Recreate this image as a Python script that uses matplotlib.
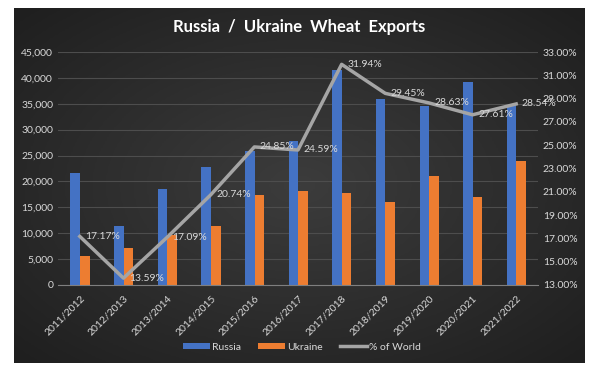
import numpy as np
import matplotlib
matplotlib.use("Agg")
import matplotlib.pyplot as plt
from matplotlib.ticker import FuncFormatter

saisons = ["2011/2012", "2012/2013", "2013/2014", "2014/2015", "2015/2016", "2016/2017",
           "2017/2018", "2018/2019", "2019/2020", "2020/2021", "2021/2022"]
russie = [21600, 11400, 18500, 22800, 25800, 27900, 41500, 35900, 34600, 39200, 34700]
ukraine = [5600, 7150, 9650, 11400, 17400, 18150, 17800, 16000, 21050, 16900, 24000]
part_monde = [17.17, 13.59, 17.09, 20.74, 24.85, 24.59, 31.94, 29.45, 28.63, 27.61, 28.54]

plt.rcParams["font.family"] = ["Lato", "DejaVu Sans"]
texte = "#D9D9D9"

fig = plt.figure(figsize=(5.98, 3.78), dpi=100)
fig.patch.set_facecolor("white")

# fond sombre avec un léger dégradé (style Excel)
fond = fig.add_axes([14 / 598, 15 / 378, 571 / 598, 355 / 378])
yy, xx = np.mgrid[-1:1:200j, -1:1:300j]
r = np.sqrt(xx ** 2 + yy ** 2)
fond.imshow(np.clip(r / 1.4, 0, 1), cmap=matplotlib.colors.LinearSegmentedColormap.from_list(
    "fond", ["#3c3c3c", "#1f1f1f"]), aspect="auto", extent=[0, 1, 0, 1])
fond.set_axis_off()

ax = fig.add_axes([58 / 598, 93 / 378, 480 / 598, 233 / 378])
ax.set_facecolor("none")
x = np.arange(len(saisons))
largeur = 0.22
ax.bar(x - 0.105, russie, largeur, color="#4472C4", label="Russia", zorder=2)
ax.bar(x + 0.115, ukraine, largeur, color="#ED7D31", label="Ukraine", zorder=2)
ax.set_xlim(-0.5, len(saisons) - 0.5)
ax.set_ylim(0, 45000)
ax.set_yticks(range(0, 45001, 5000))
ax.yaxis.set_major_formatter(FuncFormatter(lambda v, p: f"{int(v):,}"))
ax.grid(axis="y", color="#4d4d4d", linewidth=0.8, zorder=0)
ax.set_axisbelow(True)
for c in ["top", "left", "right"]:
    ax.spines[c].set_visible(False)
ax.spines["bottom"].set_color("#7f7f7f")
ax.set_xticks(x)
ax.set_xticklabels(saisons, rotation=45, ha="right", rotation_mode="anchor")
ax.tick_params(axis="both", length=0, colors=texte, labelsize=7.5)
ax.tick_params(axis="x", pad=6)

ax2 = ax.twinx()
ligne, = ax2.plot(x, part_monde, color="#A5A5A5", linewidth=2.5, label="% of World", zorder=3)
ax2.set_ylim(13, 33)
ax2.set_yticks(np.arange(13, 33.01, 2))
ax2.yaxis.set_major_formatter(FuncFormatter(lambda v, p: f"{v:.2f}%"))
ax2.tick_params(axis="y", length=0, colors=texte, labelsize=7.5)
for c in ax2.spines.values():
    c.set_visible(False)
for i, v in enumerate(part_monde):
    ax2.annotate(f"{v:.2f}%", (x[i], v), xytext=(4, 0), textcoords="offset points",
                 ha="left", va="center", color=texte, fontsize=7.5)

fig.text(0.5, 1 - 27 / 378, "Russia  /  Ukraine  Wheat  Exports", ha="center", va="center",
         color="white", fontsize=12, fontweight="bold")

h1, l1 = ax.get_legend_handles_labels()
fig.legend(h1 + [ligne], l1 + ["% of World"], loc="center", bbox_to_anchor=(0.505, 1 - 347 / 378),
           ncol=3, frameon=False, fontsize=7.5, labelcolor=texte, handlelength=2.6,
           handleheight=0.45, handletextpad=0.2, columnspacing=1.6)

fig.savefig("out.png", dpi=100, facecolor="white")
